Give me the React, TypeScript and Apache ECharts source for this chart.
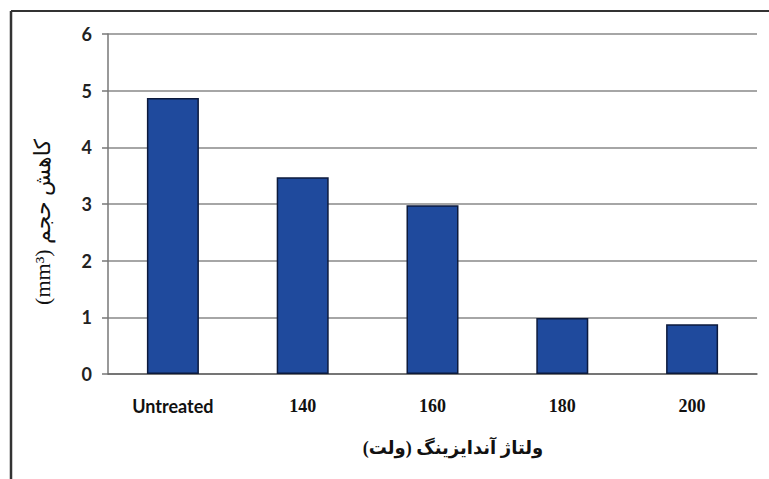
import React, { useEffect, useRef } from "react";
import * as echarts from "echarts";

const categories = ["Untreated", "140", "160", "180", "200"];
const values = [4.87, 3.47, 2.98, 0.99, 0.88];
const yTicks = [0, 1, 2, 3, 4, 5, 6];
const yAxisTitle = "(mm³) کاهش حجم";
const xAxisTitle = "ولتاژ آندایزینگ (ولت)";

export default function App() {
  const ref = useRef<HTMLDivElement>(null);
  useEffect(() => {
    if (!ref.current) return;
    const chart = echarts.init(ref.current, undefined, { renderer: "svg" });
    chart.setOption({
      animation: false,
      backgroundColor: "#ffffff",
      grid: { left: 108, right: 12, top: 34, bottom: 105, containLabel: false },
      xAxis: {
        type: "category",
        data: categories,
        axisLine: { show: true, lineStyle: { color: "#666", width: 1.5 } },
        axisTick: { show: false },
        axisLabel: {
          interval: 0,
          hideOverlap: false,
          margin: 23,
          fontFamily: "'Liberation Serif', 'Times New Roman', serif",
          fontWeight: "bold",
          fontSize: 18,
          color: "#111",
          formatter: (v: string) => (isNaN(Number(v)) ? `{a|${v}}` : v),
          rich: {
            a: {
              fontFamily: "Lato, 'Open Sans', sans-serif",
              fontWeight: "bold",
              fontSize: 18,
              color: "#111",
            },
          },
        },
      },
      yAxis: {
        type: "value",
        min: yTicks[0],
        max: yTicks[yTicks.length - 1],
        interval: 1,
        axisLine: { show: true, lineStyle: { color: "#777", width: 1.5 } },
        axisTick: { show: true, length: 6, lineStyle: { color: "#777", width: 1.5 } },
        axisLabel: {
          margin: 16,
          fontFamily: "Lato, 'Open Sans', sans-serif",
          fontWeight: "bold",
          fontSize: 18,
          color: "#222",
        },
        splitLine: { show: true, lineStyle: { color: "#888", width: 1.5 } },
      },
      series: [
        {
          type: "bar",
          data: values,
          barWidth: 52,
          itemStyle: { color: "#1f4a9d", borderColor: "#0c1a3c", borderWidth: 1.5 },
        },
      ],
      graphic: [
        {
          type: "line",
          shape: { x1: 11, y1: 11, x2: 769, y2: 11 },
          style: { stroke: "#333", lineWidth: 2 },
          z: 10,
        },
        {
          type: "line",
          shape: { x1: 11, y1: 11, x2: 11, y2: 479 },
          style: { stroke: "#333", lineWidth: 2.5 },
          z: 10,
        },
        {
          type: "text",
          x: 42,
          y: 222,
          rotation: Math.PI / 2,
          style: {
            text: yAxisTitle,
            fontFamily: "'Liberation Serif', 'DejaVu Sans', serif",
            fontSize: 22,
            fill: "#111",
            align: "center",
            verticalAlign: "middle",
          },
        },
        {
          type: "text",
          x: 453,
          y: 448,
          style: {
            text: xAxisTitle,
            fontFamily: "'Liberation Serif', 'DejaVu Sans', serif",
            fontSize: 18,
            fontWeight: "bold",
            fill: "#111",
            align: "center",
            verticalAlign: "middle",
          },
        },
      ],
    });
    return () => chart.dispose();
  }, []);
  return (
    <div
      ref={ref}
      style={{ position: "fixed", left: 0, top: 0, width: 769, height: 479 }}
    />
  );
}
